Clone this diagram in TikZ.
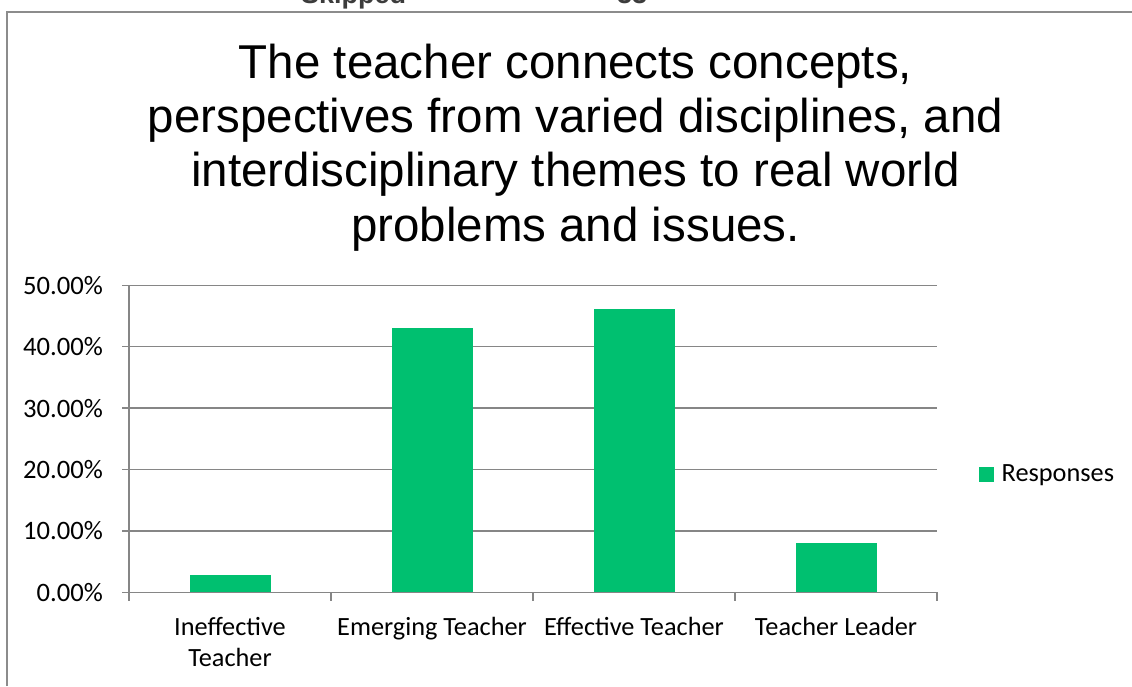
\documentclass[tikz,border=0pt]{standalone}
\usepackage{fontspec}
\setmainfont{Liberation Sans}
\newfontfamily\calibri{Carlito}
\newfontfamily\arialfont{Liberation Sans}
\definecolor{gridc}{RGB}{134,134,134}
\definecolor{barc}{RGB}{0,192,112}
\definecolor{framec}{RGB}{140,140,140}
\definecolor{skipc}{RGB}{60,60,60}
\begin{document}
\begin{tikzpicture}[x=1pt,y=-1pt,
  gridline/.style={draw=gridc, line width=1.5pt},
  framel/.style={draw=framec, line width=2pt},
  barbox/.style={fill=barc, draw=none},
  titlel/.style={font=\arialfont\fontsize{47.5}{54.5}\selectfont, anchor=base, inner sep=0},
  skipl/.style={font=\arialfont\bfseries\fontsize{27}{30}\selectfont, text=skipc, anchor=base west, inner sep=0},
  ticklab/.style={font=\calibri\fontsize{26.6}{30}\selectfont, anchor=east, inner sep=0},
  catlab/.style={font=\calibri\fontsize{26.3}{31}\selectfont, anchor=base, inner sep=0},
  leglab/.style={font=\calibri\fontsize{26.3}{31}\selectfont, anchor=base west, inner sep=0}]
\useasboundingbox (0,0) rectangle (1132,686);
% page frame
\coordinate (fbl) at (7.3,686);
\coordinate (ftl) at (7.3,11.5);
\coordinate (ftr) at (1132,11.5);
\draw[framel] (fbl) -- (ftl) -- (ftr);
% cropped header text (cut off at the top edge, as in the reference)
\node[skipl] (skipped) at (301,3.5) {Skipped};
\node[skipl] (skipnum) at (617,3.5) {33};
% title
\node[titlel] (t1) at (575.5,78.3) {The teacher connects concepts,};
\node[titlel] (t2) at (575.5,132.2) {perspectives from varied disciplines, and};
\node[titlel] (t3) at (575.5,186.8) {interdisciplinary themes to real world};
\node[titlel] (t4) at (575.5,241.5) {problems and issues.};
% gridlines and y labels
\foreach \v/\lab in {0/0.00\%,10/10.00\%,20/20.00\%,30/30.00\%,40/40.00\%,50/50.00\%}{
  \coordinate (gl\v) at (122,592.3-6.14*\v);
  \coordinate (gr\v) at (937,592.3-6.14*\v);
  \draw[gridline] (gl\v) -- (gr\v);
  \node[ticklab] (yl\v) at (103,592.3-6.14*\v) {\lab};
}
% bars
\foreach \c/\v in {230/2.8,432/43.0,634/46.1,836/8.0}{
  \fill[barbox] (\c-40.5,592.3) rectangle (\c+40.5,592.3-6.14*\v);
}
% axes
\coordinate (ytop) at (129,285.3);
\coordinate (ybot) at (129,600.5);
\draw[gridline] (ytop) -- (ybot);
\draw[gridline] (gl0) -- (gr0);
\foreach \x in {331,533,735,937}{
  \coordinate (xt\x) at (\x,592.3);
  \coordinate (xb\x) at (\x,600.5);
  \draw[gridline] (xt\x) -- (xb\x);
}
% category labels
\node[catlab] (c1a) at (230,635) {Ineffective};
\node[catlab] (c1b) at (230,666.5) {Teacher};
\node[catlab] (c2) at (432,635) {Emerging Teacher};
\node[catlab] (c3) at (634,635) {Effective Teacher};
\node[catlab] (c4) at (836,635) {Teacher Leader};
% legend
\fill[barbox] (979,467) rectangle (994,482);
\node[leglab] (leg) at (1001.5,481.7) {Responses};
\end{tikzpicture}
\end{document}
